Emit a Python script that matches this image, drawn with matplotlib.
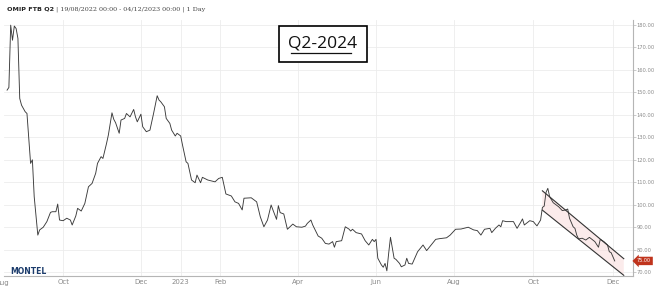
import matplotlib
matplotlib.use("Agg")
import matplotlib.pyplot as plt
import numpy as np
from matplotlib.patches import Polygon

# OMIP FTB Q2 daily settlement, trading-day number counted from 19/08/2022
start = "2022-08-19"
session = [0, 1, 2, 3, 4, 5, 6, 7, 8, 10, 11, 13, 14, 15, 17, 18, 20, 22, 24, 25,
           27, 28, 29, 31, 33, 35, 36, 38, 39, 41, 43, 45, 47, 49, 50, 52, 53, 55, 56, 58,
           59, 60, 62, 63, 65, 66, 68, 70, 71, 72, 74, 75, 77, 79, 81, 83, 84, 85, 87, 88,
           90, 91, 93, 94, 96, 97, 99, 100, 102, 104, 105, 107, 108, 111, 115, 117, 119, 121, 124, 126,
           128, 130, 131, 135, 138, 140, 142, 144, 146, 147, 149, 150, 151, 153, 155, 158, 160, 163, 165, 166,
           168, 169, 172, 174, 176, 178, 180, 181, 182, 185, 187, 189, 190, 191, 193, 196, 198, 200, 202, 203,
           204, 205, 207, 208, 209, 210, 211, 212, 214, 215, 217, 218, 220, 221, 222, 224, 225, 227, 230, 232,
           233, 237, 239, 243, 245, 248, 251, 255, 258, 260, 262, 264, 267, 268, 270, 272, 273, 274, 276, 280,
           282, 284, 285, 286, 289, 291, 292, 293, 295, 296, 297, 298, 299, 300, 302, 305, 307, 309, 310, 311,
           313, 314, 315, 316, 318, 320, 322, 325, 327, 328, 330, 332, 333, 334, 335, 336]
price = [151.0, 152.2, 179.9, 173.2, 179.5, 178.4, 174.0, 147.3, 144.3, 141.4, 140.6, 118.4, 120.0, 103.6, 86.5, 88.8, 90.0, 92.5, 96.6, 96.9,
         96.9, 100.3, 93.2, 92.9, 94.0, 93.2, 91.0, 95.0, 98.4, 97.2, 100.6, 108.0, 109.5, 114.0, 118.4, 121.4, 120.6, 127.3, 131.0, 140.9,
         138.0, 136.5, 131.8, 137.7, 138.4, 140.6, 139.1, 142.4, 139.1, 136.9, 140.3, 134.7, 132.5, 133.2, 140.6, 148.5, 146.6, 145.8, 143.6, 138.4,
         136.2, 133.2, 130.6, 131.8, 130.6, 126.6, 119.1, 118.4, 111.0, 109.8, 113.2, 109.8, 112.2, 111.0, 110.2, 111.7, 112.2, 104.8, 103.9, 101.3,
         100.6, 97.7, 102.9, 103.1, 101.3, 94.7, 90.2, 93.2, 99.9, 97.7, 93.5, 99.6, 96.5, 95.9, 89.1, 91.4, 90.2, 90.0, 90.5, 91.7,
         93.2, 91.0, 86.1, 85.1, 82.8, 82.5, 83.6, 81.1, 83.6, 84.0, 90.2, 89.2, 88.3, 89.1, 87.6, 87.0, 84.0, 82.1, 84.6, 83.6,
         84.6, 76.2, 73.2, 72.2, 73.9, 70.6, 78.4, 85.5, 76.2, 75.7, 73.9, 72.4, 73.2, 76.2, 73.9, 73.6, 75.4, 79.1, 82.1, 79.6,
         80.6, 84.6, 84.9, 85.3, 86.5, 89.1, 89.2, 90.0, 88.8, 88.5, 86.5, 89.1, 89.5, 87.6, 89.5, 91.0, 90.2, 92.9, 92.5, 92.5,
         89.5, 92.2, 93.7, 91.0, 92.9, 92.5, 91.5, 90.6, 93.2, 98.8, 99.4, 105.5, 107.3, 103.6, 100.9, 99.1, 97.4, 97.7, 98.1, 94.0,
         90.2, 89.5, 86.5, 84.8, 85.1, 84.3, 85.5, 83.6, 81.1, 84.6, 83.6, 82.1, 79.1, 78.7, 76.9, 75.0]

# falling channel drawn on the chart
channel_x = [296, 341]
channel_upper = [106.2, 76.0]
channel_lower = [97.6, 68.6]

month_starts = ["2022-10-01", "2022-12-01", "2023-01-01", "2023-02-01", "2023-04-01",
                "2023-06-01", "2023-08-01", "2023-10-01", "2023-12-01"]
month_labels = ["Oct", "Dec", "2023", "Feb", "Apr", "Jun", "Aug", "Oct", "Dec"]
y_ticks = list(range(70, 190, 10))
last_price = price[-1]

grey = "#8a8a8a"
fig = plt.figure(figsize=(6.54, 2.89), dpi=100)
ax = fig.add_axes([4 / 654, 13 / 289, 629 / 654, 256 / 289])

ax.plot(session, price, color="#3a3a3a", linewidth=0.65)

# channel fill and border lines
poly = Polygon([[channel_x[0], channel_upper[0]], [channel_x[1], channel_upper[1]],
                [channel_x[1], channel_lower[1]], [channel_x[0], channel_lower[0]]],
               closed=True, facecolor="#f9dede", edgecolor="none", alpha=0.6, zorder=1)
ax.add_patch(poly)
ax.plot(channel_x, channel_upper, color="#333333", linewidth=0.8)
ax.plot(channel_x, channel_lower, color="#333333", linewidth=0.8)

tick_pos = [np.busday_count(start, m) for m in month_starts]
ax.set_xticks(tick_pos)
ax.set_xticklabels(month_labels)
ax.set_xlim(-1.7, 346.1)
ax.set_ylim(68.3, 182.2)
ax.set_yticks(y_ticks)
ax.set_yticklabels([f"{v:.2f}" for v in y_ticks])
ax.yaxis.tick_right()

ax.grid(True, color="#ececec", linewidth=0.6)
ax.set_axisbelow(True)
for side in ["top", "left"]:
    ax.spines[side].set_visible(False)
for side in ["right", "bottom"]:
    ax.spines[side].set_color("#b5b5b5")
    ax.spines[side].set_linewidth(0.8)
ax.tick_params(axis="y", length=2, width=0.5, color="#b5b5b5", labelsize=3.7,
               labelcolor=grey, pad=0.8)
ax.tick_params(axis="x", length=0, labelsize=5, labelcolor=grey, pad=2.5)

# cut-off "Aug" label at the far left
fig.text(3 / 654, 1 - 283 / 289, "Aug", fontsize=5, color=grey, ha="center", va="center")

# last price tag
ax.annotate(f"{last_price:.2f}", xy=(1.0, last_price), xycoords=("axes fraction", "data"),
            xytext=(8, 0), textcoords="offset points", fontsize=3.5, color="white",
            ha="center", va="center",
            bbox=dict(boxstyle="larrow,pad=0.35", fc="#c0341d", ec="none"),
            annotation_clip=False)

# header
t1 = fig.text(7 / 654, 1 - 9 / 289, "OMIP FTB Q2", fontsize=4.6, fontweight="bold",
              color="#222222", va="center", ha="left")
fig.canvas.draw()
x1 = fig.transFigure.inverted().transform(t1.get_window_extent().get_points())[1][0]
fig.text(x1 + 1.5 / 654, 1 - 9 / 289, "| 19/08/2022 00:00 - 04/12/2023 00:00 | 1 Day",
         fontsize=4.6, family="DejaVu Serif", color="#444444", va="center", ha="left")

# boxed annotation
fig.text(323 / 654, 1 - 44 / 289, "Q2-2024", fontsize=12.5, family="Open Sans",
         color="#111111", ha="center", va="center", zorder=2,
         bbox=dict(boxstyle="square,pad=0.55", fc="white", ec="black", lw=1.2))
fig.add_artist(plt.Line2D([291 / 654, 351 / 654], [1 - 53 / 289, 1 - 53 / 289],
                          color="#111111", linewidth=0.9, zorder=5))

# logo
fig.text(10 / 654, 1 - 271 / 289, "MONTEL", fontsize=5.5, fontweight="bold",
         color="#1c3c6c", ha="left", va="center")

plt.savefig("out.png", dpi=100)
